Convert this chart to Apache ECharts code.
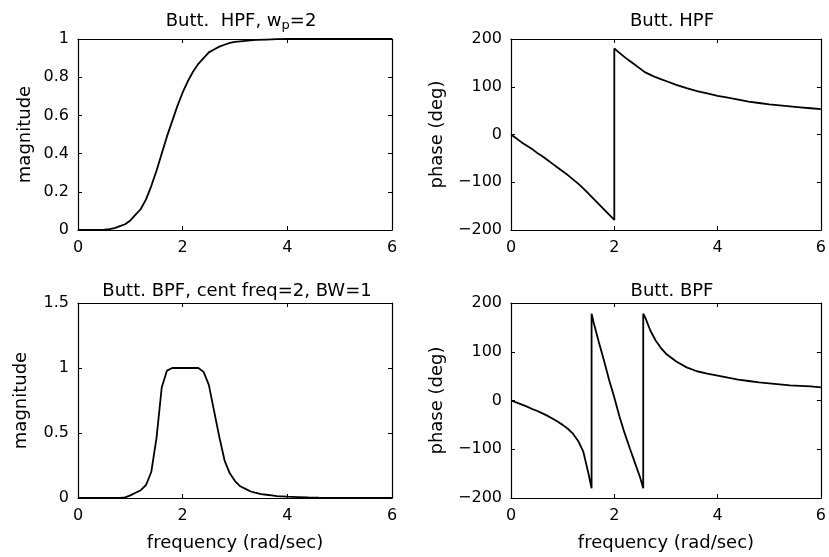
<!DOCTYPE html>
<html>
<head>
<meta charset="utf-8">
<script src="https://cdn.jsdelivr.net/npm/echarts@6/dist/echarts.min.js"></script>
<style>html,body{margin:0;padding:0;background:#fff;}#chart{width:829px;height:557px;}</style>
</head>
<body>
<div id="chart"></div>
<script>
// ---- data ----
const hpfMagFreq = [0,0.1,0.2,0.3,0.4,0.5,0.6,0.7,0.8,0.9,1.0,1.1,1.2,1.3,1.4,1.5,1.6,1.7,1.8,1.9,2.0,2.1,2.2,2.3,2.4,2.5,2.6,2.7,2.8,2.9,3.0,3.2,3.4,3.6,3.8,4.0,4.5,5.0,5.5,6.0];
const hpfMag = [0,0,0,0,0,0.002,0.005,0.01,0.02,0.03,0.05,0.08,0.11,0.16,0.23,0.31,0.40,0.49,0.57,0.65,0.72,0.78,0.83,0.87,0.90,0.93,0.945,0.96,0.97,0.98,0.985,0.99,0.995,0.997,0.999,1,1,1,1,1];

const hpfPhaseFreq = [0,0.1,0.2,0.3,0.4,0.5,0.6,0.7,0.8,0.9,1.0,1.1,1.2,1.3,1.4,1.5,1.6,1.7,1.8,1.9,2.0,2.0,2.1,2.2,2.3,2.4,2.5,2.6,2.7,2.8,2.9,3.0,3.2,3.4,3.6,3.8,4.0,4.2,4.4,4.6,4.8,5.0,5.2,5.4,5.6,5.8,6.0];
const hpfPhase = [0,-8,-16,-23,-30,-38,-45,-53,-61,-69,-77,-85,-94,-103,-113,-124,-135,-146,-157,-168,-179,180,171,162,154,146,138,130,125,120,116,112,104,97,91,86,81,77,73,69,66,63,61,59,57,55,53];

const bpfMagFreq = [0,0.5,0.8,0.9,1.0,1.1,1.2,1.3,1.4,1.5,1.6,1.7,1.8,1.9,2.0,2.1,2.2,2.3,2.4,2.5,2.6,2.7,2.8,2.9,3.0,3.1,3.2,3.3,3.4,3.5,3.6,3.7,3.8,4.0,4.2,4.4,4.6,5.0,5.5,6.0];
const bpfMag = [0,0,0,0.005,0.02,0.04,0.06,0.10,0.20,0.46,0.85,0.98,1,1,1,1,1,1,0.97,0.87,0.67,0.47,0.29,0.19,0.13,0.09,0.07,0.05,0.04,0.03,0.025,0.02,0.015,0.01,0.007,0.004,0.002,0,0,0];

const bpfPhaseFreq = [0,0.1,0.2,0.3,0.4,0.5,0.6,0.7,0.8,0.9,1.0,1.1,1.2,1.3,1.4,1.5,1.56,1.56,1.6,1.7,1.8,1.9,2.0,2.1,2.2,2.3,2.4,2.5,2.56,2.56,2.6,2.7,2.8,2.9,3.0,3.2,3.4,3.6,3.8,4.0,4.2,4.4,4.6,4.8,5.0,5.2,5.4,5.6,5.8,6.0];
const bpfPhase = [0,-4,-8,-12,-17,-21,-26,-31,-37,-43,-50,-58,-68,-83,-105,-150,-180,178,160,120,82,42,6,-33,-67,-98,-128,-158,-180,178,170,143,123,108,96,80,68,60,55,51,47,43,40,37,35,33,31,30,29,27];

const freqTicks = {min: 0, max: 6, interval: 2};
const hpfMagTicks = {min: 0, max: 1, interval: 0.2};
const bpfMagTicks = {min: 0, max: 1.5, interval: 0.5};
const phaseTicks = {min: -200, max: 200, interval: 100};

const titles = ['Butt.  HPF, w{s|p}=2', 'Butt. HPF', 'Butt. BPF, cent freq=2, BW=1', 'Butt. BPF'];
const yNames = ['magnitude', 'phase (deg)', 'magnitude', 'phase (deg)'];
const xName = 'frequency (rad/sec)';

// ---- chart ----
const FONT = '"DejaVu Sans", Verdana, sans-serif';
const FS_TICK = 16;
const FS_TEXT = 18;
const pairs = (xs, ys) => xs.map((x, i) => [x, ys[i]]);
const fmt = v => String(v).replace('-', '\u2212');

const grids = [
  {left: 78, top: 39, width: 314, height: 191},
  {left: 511, top: 39, width: 313, height: 191},
  {left: 78, top: 303, width: 314, height: 195},
  {left: 511, top: 303, width: 313, height: 195}
];
const yTicks = [hpfMagTicks, phaseTicks, bpfMagTicks, phaseTicks];
const yGaps = [44, 65, 48, 65];

const line = {color: '#000', width: 1.2};
function mkX(gi, pos, labels) {
  return Object.assign({
    type: 'value', gridIndex: gi, position: pos,
    axisLine: {show: true, onZero: false, lineStyle: line},
    axisTick: {show: true, inside: true, length: 4, lineStyle: {color: '#000', width: 1}},
    axisLabel: {show: labels, color: '#000', fontFamily: FONT, fontSize: FS_TICK, margin: 10, formatter: fmt},
    splitLine: {show: false},
    name: labels && gi >= 2 ? xName : '',
    nameLocation: 'middle', nameGap: 36,
    nameTextStyle: {color: '#000', fontFamily: FONT, fontSize: FS_TEXT}
  }, freqTicks);
}
function mkY(gi, pos, labels) {
  return Object.assign({
    type: 'value', gridIndex: gi, position: pos,
    axisLine: {show: true, onZero: false, lineStyle: line},
    axisTick: {show: true, inside: true, length: 4, lineStyle: {color: '#000', width: 1}},
    axisLabel: {show: labels, color: '#000', fontFamily: FONT, fontSize: FS_TICK, margin: 9, formatter: fmt},
    splitLine: {show: false},
    name: labels ? yNames[gi] : '',
    nameLocation: 'middle', nameGap: yGaps[gi], nameRotate: 90,
    nameTextStyle: {color: '#000', fontFamily: FONT, fontSize: FS_TEXT}
  }, yTicks[gi]);
}

const xAxis = [], yAxis = [];
for (let i = 0; i < 4; i++) {
  xAxis.push(mkX(i, 'bottom', true));
  xAxis.push(mkX(i, 'top', false));
  yAxis.push(mkY(i, 'left', true));
  yAxis.push(mkY(i, 'right', false));
}

const seriesData = [
  pairs(hpfMagFreq, hpfMag),
  pairs(hpfPhaseFreq, hpfPhase),
  pairs(bpfMagFreq, bpfMag),
  pairs(bpfPhaseFreq, bpfPhase)
];
const series = seriesData.map((d, i) => ({
  type: 'line', xAxisIndex: 2 * i, yAxisIndex: 2 * i, data: d,
  showSymbol: false, symbol: 'none', animation: false,
  lineStyle: {color: '#000', width: 1.8}
}));

const titlePos = [[241, 21], [672, 21], [237, 291], [672, 291]];
const graphic = titles.map((t, i) => ({
  type: 'text', x: titlePos[i][0], y: titlePos[i][1],
  style: {
    text: t, fill: '#000', font: FS_TEXT + 'px ' + FONT, align: 'center', verticalAlign: 'middle',
    rich: {s: {fontSize: 13, fontFamily: FONT, fill: '#000', padding: [10, 0, 0, 0]}}
  }
}));

const chart = echarts.init(document.getElementById('chart'), null, {renderer: 'canvas'});
chart.setOption({
  animation: false,
  backgroundColor: '#fff',
  grid: grids.map(g => Object.assign({containLabel: false}, g)),
  xAxis, yAxis, series, graphic
});
</script>
</body>
</html>
